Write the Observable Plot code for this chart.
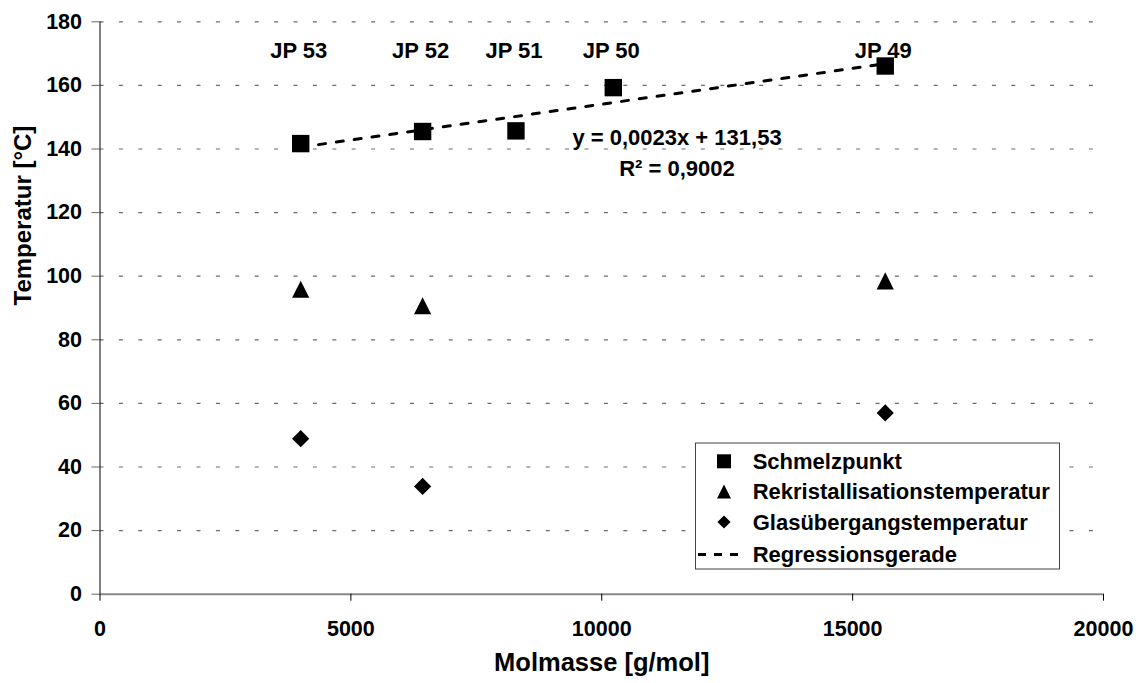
<!DOCTYPE html>
<html>
<head>
<meta charset="utf-8">
<script src="https://cdn.jsdelivr.net/npm/d3@7"></script>
<script src="https://cdn.jsdelivr.net/npm/@observablehq/plot@0.6"></script>
<style>
  html, body { margin: 0; padding: 0; background: #fff; }
  #wrap { position: relative; width: 1136px; height: 683px; font-family: "Liberation Sans", Arial, sans-serif; font-weight: bold; }
  #legend { position: absolute; left: 0; top: 0; pointer-events: none; }
</style>
</head>
<body>
<div id="wrap"></div>
<script>
// ---- data ----
const samples = ["JP 53", "JP 52", "JP 51", "JP 50", "JP 49"];
const molmasse = [4000, 6430, 8290, 10230, 15650];
const schmelzpunkt = [141.7, 145.5, 145.7, 159.3, 166.1];
const rekristMolmasse = [4000, 6430, 15650];
const rekristallisation = [95.9, 90.7, 98.5];
const glasMolmasse = [4000, 6430, 15650];
const glasuebergang = [48.9, 33.9, 57.0];
const xTicks = [0, 5000, 10000, 15000, 20000];
const yTicks = [0, 20, 40, 60, 80, 100, 120, 140, 160, 180];
const gridTicks = [20, 40, 60, 80, 100, 120, 140, 160, 180];
const equationText = ["y = 0,0023x + 131,53", "R² = 0,9002"];
const equationX = [11500, 11500];
const equationY = [143.5, 133.6];
const legendLabels = ["Schmelzpunkt", "Rekristallisationstemperatur", "Glasübergangstemperatur", "Regressionsgerade"];

const melt = samples.map((s, i) => ({name: s, x: molmasse[i], y: schmelzpunkt[i]}));
const rekr = rekristMolmasse.map((x, i) => ({x, y: rekristallisation[i]}));
const glas = glasMolmasse.map((x, i) => ({x, y: glasuebergang[i]}));
const eq = equationText.map((t, i) => ({t, x: equationX[i], y: equationY[i]}));

// custom Excel-like markers
const symSquare = {draw(ctx, size) { const h = Math.sqrt(size / Math.PI); ctx.rect(-h, -h, 2 * h, 2 * h); }};
const symTriangle = {draw(ctx, size) { const h = Math.sqrt(size / Math.PI); ctx.moveTo(0, -h); ctx.lineTo(h, h); ctx.lineTo(-h, h); ctx.closePath(); }};
const symDiamond = {draw(ctx, size) { const h = Math.sqrt(size / Math.PI); ctx.moveTo(0, -h); ctx.lineTo(h, 0); ctx.lineTo(0, h); ctx.lineTo(-h, 0); ctx.closePath(); }};

const font = '"Liberation Sans", Arial, sans-serif';

const chart = Plot.plot({
  width: 1136,
  height: 683,
  marginLeft: 99.5,
  marginRight: 33,
  marginTop: 21.3,
  marginBottom: 89.3,
  style: {fontFamily: font, fontWeight: "bold", fontSize: "21.5px", color: "#000", background: "#fff"},
  x: {domain: [0, 20000]},
  y: {domain: [0, 180]},
  marks: [
    Plot.gridY(gridTicks, {stroke: "#6a6a6a", strokeOpacity: 1, strokeWidth: 1.2, strokeDasharray: "4,15.4"}),
    Plot.ruleY([0], {stroke: "#888", strokeWidth: 2}),
    Plot.ruleX([0], {y1: 0, y2: 180, stroke: "#000", strokeWidth: 1}),
    Plot.axisY(yTicks, {tickSize: 8, tickPadding: 10, stroke: "#666", fill: "#000", fontSize: 21.5, fontWeight: "bold", label: null, tickFormat: d => String(d)}),
    Plot.axisX(xTicks, {tickSize: 7, tickPadding: 19.5, stroke: "#000", fill: "#000", fontSize: 21.5, fontWeight: "bold", label: null, tickFormat: d => String(d)}),
    Plot.linearRegressionY(melt, {x: "x", y: "y", ci: 0, stroke: "#000", strokeWidth: 3, strokeDasharray: "7,11"}),
    Plot.dot(melt, {x: "x", y: "y", symbol: symSquare, r: 8.7, fill: "#000", stroke: "none"}),
    Plot.dot(rekr, {x: "x", y: "y", symbol: symTriangle, r: 8.6, fill: "#000", stroke: "none"}),
    Plot.dot(glas, {x: "x", y: "y", symbol: symDiamond, r: 8.6, fill: "#000", stroke: "none"}),
    Plot.text(melt, {x: "x", text: "name", frameAnchor: "top", dy: 21, dx: -2, fontSize: 22, fontWeight: "bold", fill: "#000"}),
    Plot.text(eq, {x: "x", y: "y", text: "t", fontSize: 22, fontWeight: "bold", fill: "#000"}),
    Plot.text(["Molmasse [g/mol]"], {frameAnchor: "bottom", dy: 77, fontSize: 25.5, fontWeight: "bold", fill: "#000"}),
    Plot.text(["Temperatur [°C]"], {frameAnchor: "left", dx: -76.5, dy: -2.5, rotate: -90, fontSize: 24, fontWeight: "bold", fill: "#000"})
  ]
});

const wrap = document.getElementById("wrap");
wrap.appendChild(chart);

// ---- legend overlay ----
const ns = "http://www.w3.org/2000/svg";
const lg = document.createElementNS(ns, "svg");
lg.setAttribute("id", "legend");
lg.setAttribute("width", 1136);
lg.setAttribute("height", 683);
wrap.appendChild(lg);
const box = {x: 695.5, y: 443, w: 364, h: 126};
const rect = document.createElementNS(ns, "rect");
rect.setAttribute("x", box.x); rect.setAttribute("y", box.y);
rect.setAttribute("width", box.w); rect.setAttribute("height", box.h);
rect.setAttribute("fill", "#fff"); rect.setAttribute("stroke", "#444"); rect.setAttribute("stroke-width", 1);
lg.appendChild(rect);
const rowY = [461.3, 491.5, 522, 554.5];
const symX = 724;
const symbols = [symSquare, symTriangle, symDiamond];
const symHalf = [7, 7, 6.6];
legendLabels.forEach((label, i) => {
  if (i < 3) {
    const p = document.createElementNS(ns, "path");
    p.setAttribute("d", d3.symbol(symbols[i], Math.PI * symHalf[i] * symHalf[i])());
    p.setAttribute("transform", `translate(${symX},${rowY[i]})`);
    p.setAttribute("fill", "#000");
    lg.appendChild(p);
  } else {
    const l = document.createElementNS(ns, "line");
    l.setAttribute("x1", 698); l.setAttribute("x2", 740);
    l.setAttribute("y1", rowY[i]); l.setAttribute("y2", rowY[i]);
    l.setAttribute("stroke", "#000"); l.setAttribute("stroke-width", 3);
    l.setAttribute("stroke-dasharray", "8,8");
    lg.appendChild(l);
  }
  const t = document.createElementNS(ns, "text");
  t.setAttribute("x", 752.7);
  t.setAttribute("y", rowY[i] + 7.9);
  t.setAttribute("font-family", font);
  t.setAttribute("font-weight", "bold");
  t.setAttribute("font-size", 22);
  t.textContent = label;
  lg.appendChild(t);
});
</script>
</body>
</html>
